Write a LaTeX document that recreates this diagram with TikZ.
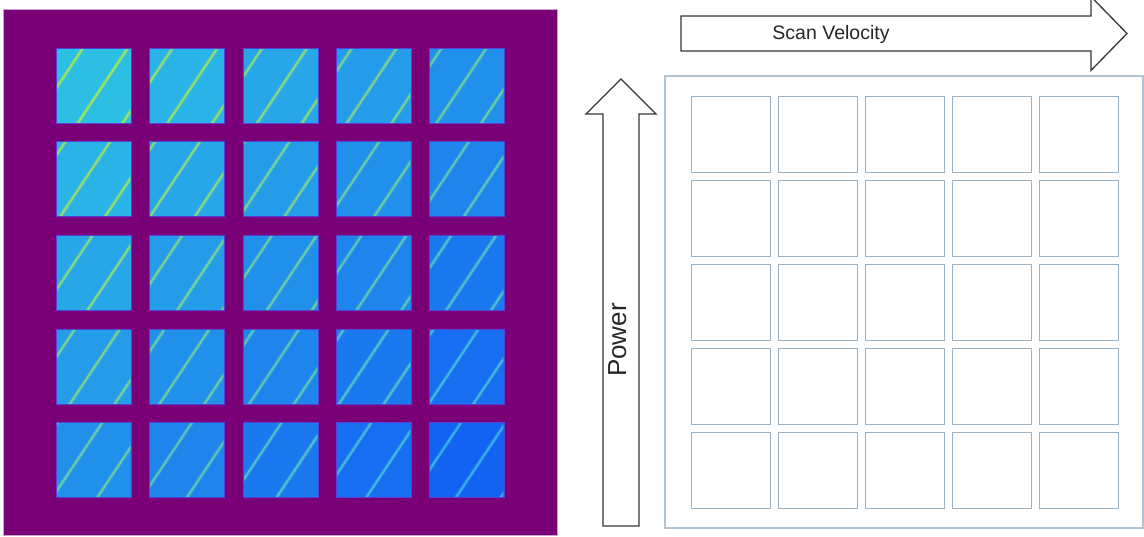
\documentclass[tikz,border=0pt]{standalone}
\usepackage{fontspec}
\setmainfont{Liberation Sans}

\definecolor{bgpurple}{RGB}{122,0,120}
\definecolor{plateedge}{RGB}{200,165,200}
\definecolor{padA}{RGB}{45,190,228}
\definecolor{padB}{RGB}{20,98,242}
\definecolor{trackA}{RGB}{160,230,90}
\definecolor{trackB}{RGB}{55,180,240}
\definecolor{padedge}{RGB}{85,65,215}
\definecolor{cellline}{RGB}{155,178,198}
\definecolor{frameline}{RGB}{178,196,210}
\definecolor{arrowline}{RGB}{55,55,55}

\begin{document}
\begin{tikzpicture}[x=1pt,y=-1pt,
  cell/.style={draw=cellline,line width=1.4pt,minimum width=78.5pt,
    minimum height=76pt,inner sep=0pt,anchor=north west},
  bigarrow/.style={draw=arrowline,line width=1.3pt,fill=white,line join=miter},
  label/.style={text=black!85,inner sep=0pt}]
\useasboundingbox (0,0) rectangle (1144,536);

% printed plate with 5x5 pads and diagonal scan tracks
\fill[bgpurple] (3,9) rectangle (557.5,535);
\draw[plateedge,line width=0.8pt] (3,9) rectangle (557.5,535);
\foreach \r in {0,...,4}{
  \foreach \c in {0,...,4}{
    \pgfmathsetmacro\px{round(56+93.25*\c)}
    \pgfmathsetmacro\py{round(47.7+93.6*\r)}
    \pgfmathtruncatemacro\pct{(\c+\r)*12.5}
    \colorlet{padfill}{padB!\pct!padA}
    \colorlet{trackcol}{trackB!\pct!trackA}
    \colorlet{trackglow}{trackcol!45!padfill}
    \fill[padfill] (\px,\py) rectangle ++(75,75);
    \begin{scope}
      \clip ({\px+0.6},{\py+0.6}) rectangle ++(73.8,73.8);
      \foreach \k in {-4,...,17}{
        \draw[trackglow,line width=3.6pt]
          ({159.8+44.84*\k},0) -- ({-200.2+44.84*\k},540);
        \draw[trackcol,line width=1.6pt]
          ({159.8+44.84*\k},0) -- ({-200.2+44.84*\k},540);
      }
    \end{scope}
    \draw[padedge,line width=0.9pt] (\px,\py) rectangle ++(75,75);
  }
}

% parameter grid
\draw[frameline,line width=1.3pt] (665,76) rectangle (1143,528);
\foreach \r in {0,...,4}{
  \foreach \c in {0,...,4}{
    \node[cell] (g\r\c) at ({691+87*\c},{96+84*\r}) {};
  }
}

% axis arrows
\draw[bigarrow] (681,16) -- (1091,16) -- (1091,-3.4) -- (1127,33.5)
  -- (1091,70.4) -- (1091,51) -- (681,51) -- cycle;
\draw[bigarrow] (603,526) -- (603,114) -- (586,114) -- (621,79)
  -- (656,114) -- (639,114) -- (639,526) -- cycle;

\node[label,anchor=base,font=\fontsize{19.5}{19.5}\selectfont]
  (scanlabel) at (831,39.5) {Scan Velocity};
\node[label,anchor=base,rotate=90,font=\fontsize{26}{26}\selectfont]
  (powerlabel) at (626,340) {Power};
\end{tikzpicture}
\end{document}
